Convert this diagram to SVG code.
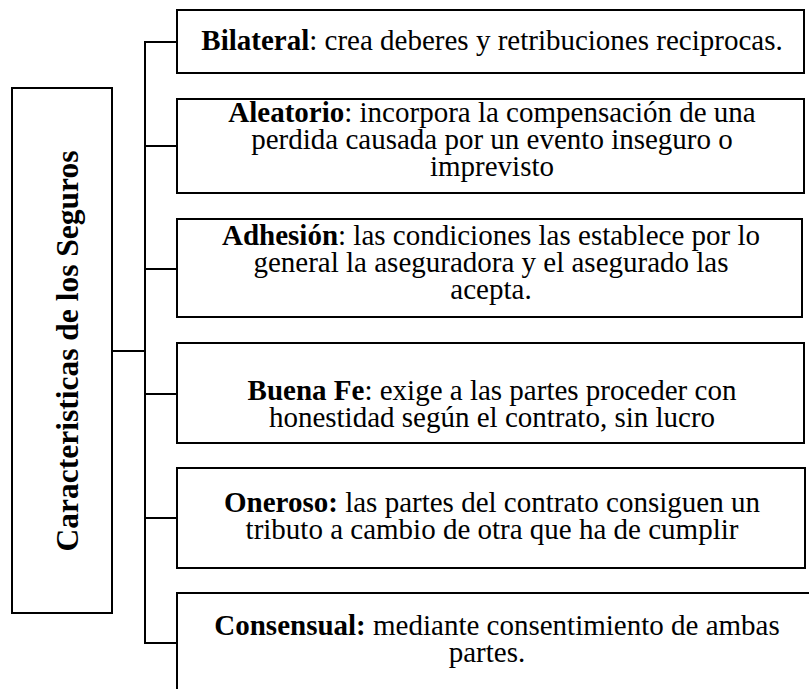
<svg xmlns="http://www.w3.org/2000/svg" width="809" height="689" viewBox="0 0 809 689">
<style>
.box{fill:#fff;stroke:#000;stroke-width:2}
.ln{fill:none;stroke:#000;stroke-width:2}
.t{font-family:"Liberation Serif","Times New Roman",serif;font-size:29px;fill:#000;text-anchor:middle}
.b{font-weight:bold}
.title{font-family:"Liberation Serif","Times New Roman",serif;font-size:31.5px;font-weight:bold;fill:#000;text-anchor:middle}
</style>
<rect width="809" height="689" fill="#fff"/>
<g id="connectors">
<line class="ln" x1="145" y1="41" x2="145" y2="644"/>
<line class="ln" x1="112" y1="351" x2="145" y2="351"/>
<line class="ln" x1="144" y1="42" x2="177" y2="42"/>
<line class="ln" x1="144" y1="146" x2="177" y2="146"/>
<line class="ln" x1="144" y1="269" x2="177" y2="269"/>
<line class="ln" x1="144" y1="394" x2="177" y2="394"/>
<line class="ln" x1="144" y1="518" x2="177" y2="518"/>
<line class="ln" x1="144" y1="643" x2="177" y2="643"/>
</g>
<g id="root">
<rect class="box" x="12" y="88" width="100" height="525"/>
<text class="title" transform="translate(78,351) rotate(-90)">Caracteristicas de los Seguros</text>
</g>
<g id="bilateral">
<rect class="box" x="177" y="10" width="627" height="63"/>
<text class="t" x="492" y="50"><tspan class="b">Bilateral</tspan>: crea deberes y retribuciones reciprocas.</text>
</g>
<g id="aleatorio">
<rect class="box" x="177" y="99" width="627" height="94"/>
<text class="t" x="492" y="122"><tspan class="b">Aleatorio</tspan>: incorpora la compensación de una</text>
<text class="t" x="492" y="149">perdida causada por un evento inseguro o</text>
<text class="t" x="492" y="176">imprevisto</text>
</g>
<g id="adhesion">
<rect class="box" x="177" y="219" width="625" height="98"/>
<text class="t" x="491" y="245"><tspan class="b">Adhesión</tspan>:  las condiciones las establece por lo</text>
<text class="t" x="491" y="272">general la aseguradora y el asegurado las</text>
<text class="t" x="491" y="299">acepta.</text>
</g>
<g id="buenafe">
<rect class="box" x="177" y="343" width="627" height="100"/>
<text class="t" x="492" y="400"><tspan class="b">Buena Fe</tspan>: exige a las partes proceder con</text>
<text class="t" x="492" y="427">honestidad según el contrato, sin lucro</text>
</g>
<g id="oneroso">
<rect class="box" x="177" y="468" width="628" height="100"/>
<text class="t" x="492" y="512"><tspan class="b">Oneroso:</tspan> las partes del contrato consiguen un</text>
<text class="t" x="492" y="539">tributo a cambio de otra que ha de cumplir</text>
</g>
<g id="consensual">
<rect class="box" x="177" y="593" width="650" height="120"/>
<text class="t" x="497" y="635"><tspan class="b">Consensual:</tspan> mediante consentimiento de ambas</text>
<text class="t" x="487" y="662">partes.</text>
</g>
</svg>
